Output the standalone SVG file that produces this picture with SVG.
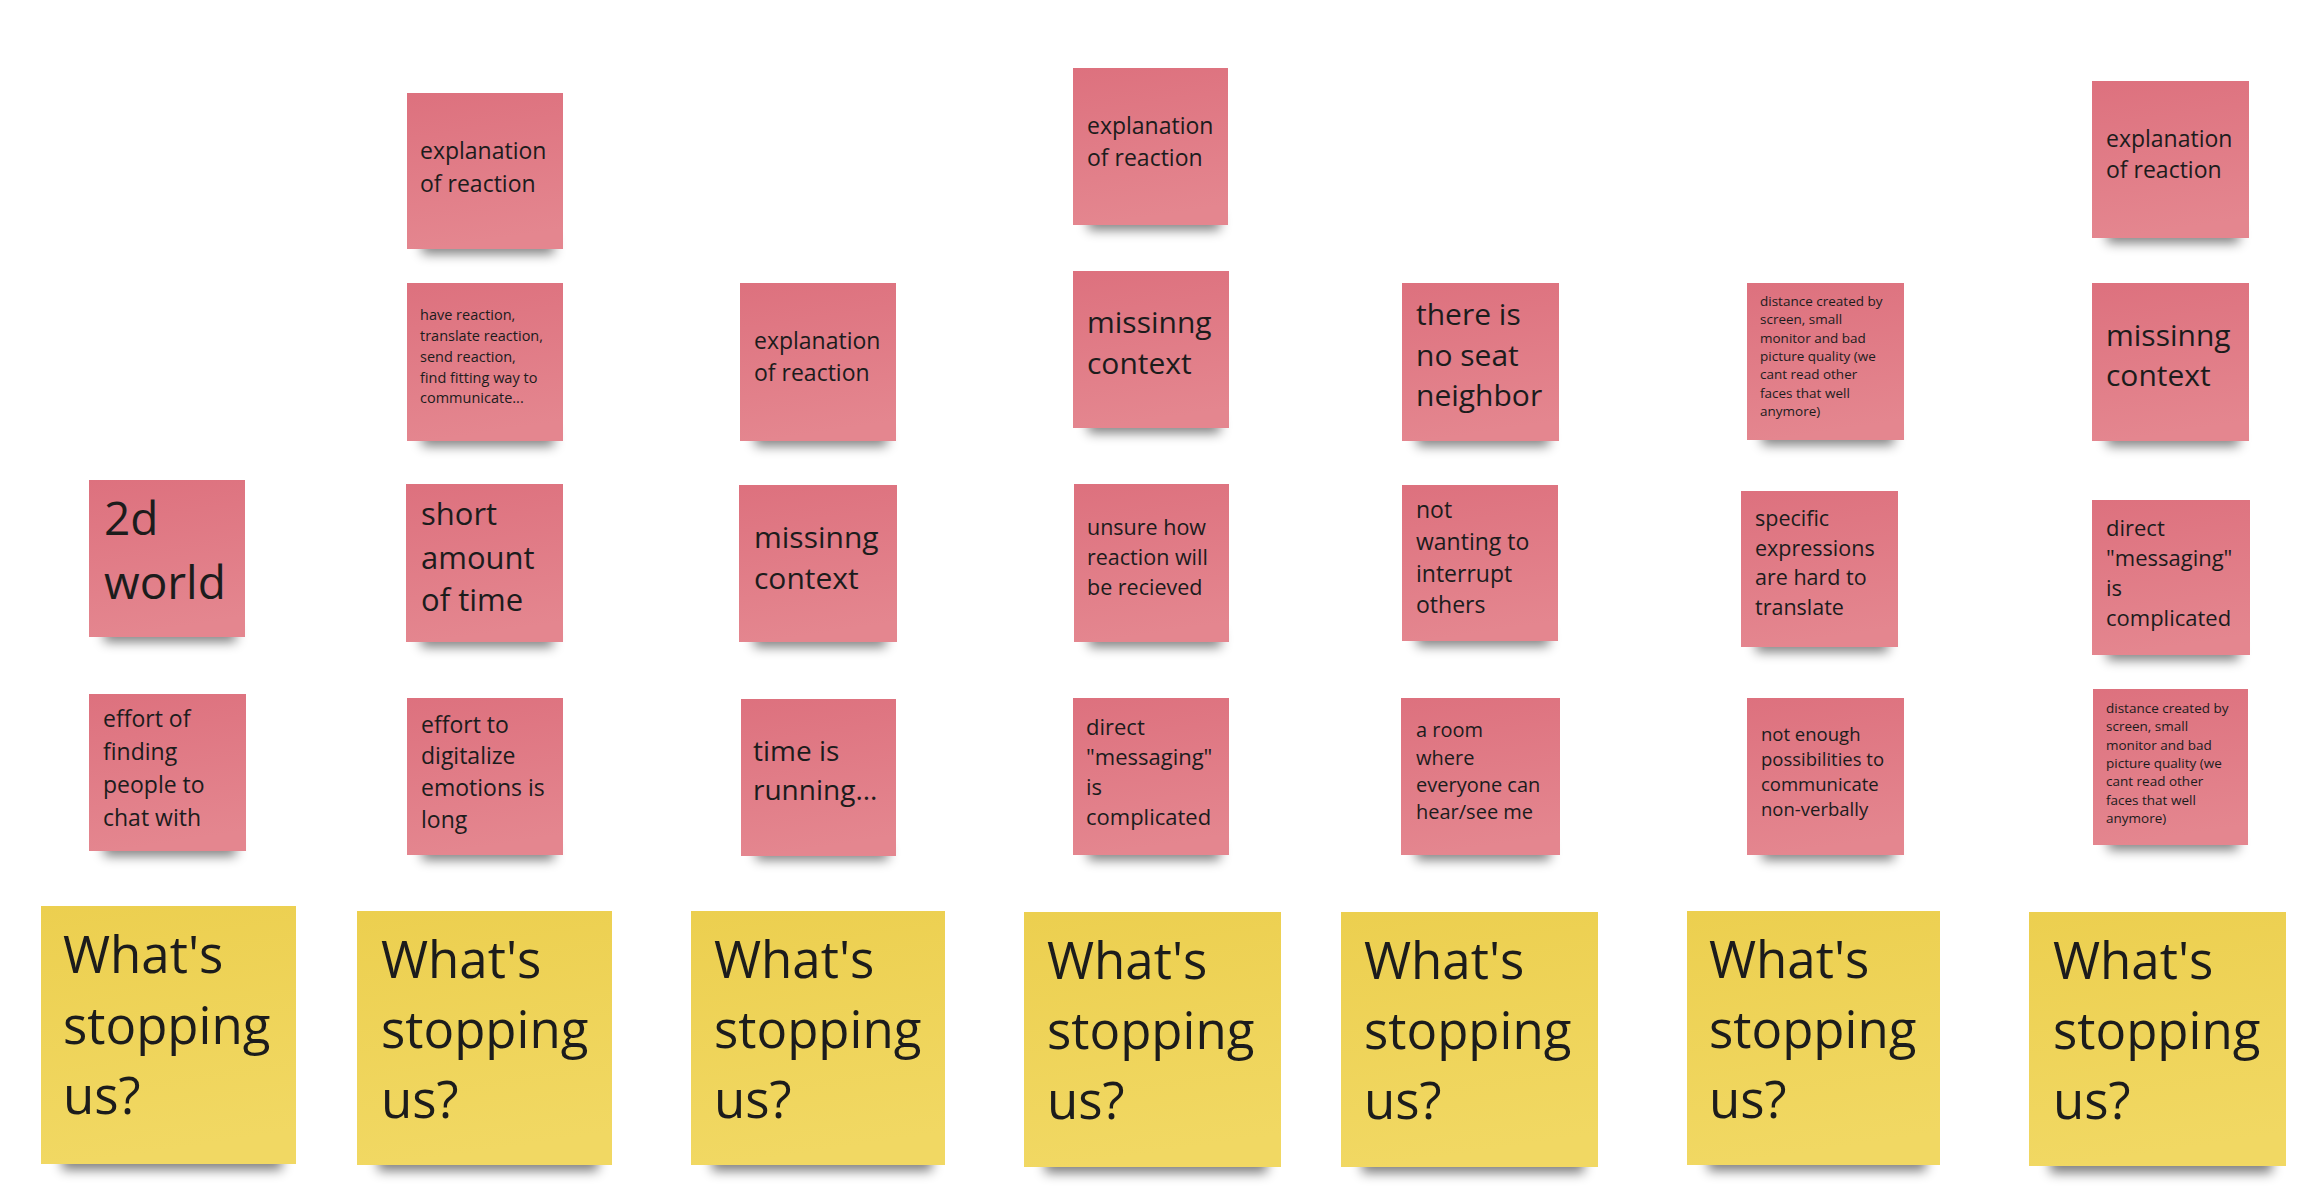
<svg xmlns="http://www.w3.org/2000/svg" width="2324" height="1190" viewBox="0 0 2324 1190">
<defs>
<linearGradient id="gp" x1="0" y1="0" x2="0.15" y2="1">
<stop offset="0" stop-color="#dd717e"/>
<stop offset="1" stop-color="#e4868f"/>
</linearGradient>
<linearGradient id="gy" x1="0" y1="0" x2="0.15" y2="1">
<stop offset="0" stop-color="#eccf4f"/>
<stop offset="1" stop-color="#f1d863"/>
</linearGradient>
<filter id="blur" x="-20%" y="-80%" width="140%" height="260%">
<feGaussianBlur stdDeviation="6"/>
</filter>
<style>
.p{fill:url(#gp)}
.y{fill:url(#gy)}
.sh{fill:#000;opacity:0.5;filter:url(#blur);transform:translateY(4px)}
text{font-family:"Open Sans","Noto Sans",sans-serif;fill:#1c1c1c}
.q{font-size:51px}
</style>
</defs>
<rect width="2324" height="1190" fill="#ffffff"/>

<!-- Column 1 -->
<g id="n1a"><rect class="sh" x="104" y="622" width="132" height="16"/><rect class="p" x="89" y="480" width="156" height="157"/>
<text style="font-size:46px"><tspan x="104" y="535">2d</tspan><tspan x="104" y="599">world</tspan></text></g>
<g id="n1b"><rect class="sh" x="104" y="836" width="132" height="16"/><rect class="p" x="89" y="694" width="157" height="157"/>
<text style="font-size:23px"><tspan x="103" y="727">effort of</tspan><tspan x="103" y="760">finding</tspan><tspan x="103" y="793">people to</tspan><tspan x="103" y="826">chat with</tspan></text></g>
<g id="y1"><rect class="sh" x="62" y="1146" width="220" height="20"/><rect class="y" x="41" y="906" width="255" height="258"/>
<text class="q"><tspan x="63" y="973">What's</tspan><tspan x="63" y="1044">stopping</tspan><tspan x="63" y="1114">us?</tspan></text></g>

<!-- Column 2 -->
<g id="n2a"><rect class="sh" x="422" y="234" width="132" height="16"/><rect class="p" x="407" y="93" width="156" height="156"/>
<text style="font-size:23px"><tspan x="420" y="159">explanation</tspan><tspan x="420" y="192">of reaction</tspan></text></g>
<g id="n2b"><rect class="sh" x="422" y="426" width="132" height="16"/><rect class="p" x="407" y="283" width="156" height="158"/>
<text style="font-size:14.5px"><tspan x="420" y="320">have reaction,</tspan><tspan x="420" y="341">translate reaction,</tspan><tspan x="420" y="362">send reaction,</tspan><tspan x="420" y="383">find fitting way to</tspan><tspan x="420" y="403">communicate...</tspan></text></g>
<g id="n2c"><rect class="sh" x="421" y="627" width="132" height="16"/><rect class="p" x="406" y="484" width="157" height="158"/>
<text style="font-size:31px"><tspan x="421" y="525">short</tspan><tspan x="421" y="569">amount</tspan><tspan x="421" y="611">of time</tspan></text></g>
<g id="n2d"><rect class="sh" x="422" y="840" width="132" height="16"/><rect class="p" x="407" y="698" width="156" height="157"/>
<text style="font-size:23px"><tspan x="421" y="733">effort to</tspan><tspan x="421" y="764">digitalize</tspan><tspan x="421" y="796">emotions is</tspan><tspan x="421" y="828">long</tspan></text></g>
<g id="y2"><rect class="sh" x="378" y="1147" width="220" height="20"/><rect class="y" x="357" y="911" width="255" height="254"/>
<text class="q"><tspan x="381" y="978">What's</tspan><tspan x="381" y="1048">stopping</tspan><tspan x="381" y="1118">us?</tspan></text></g>

<!-- Column 3 -->
<g id="n3a"><rect class="sh" x="755" y="426" width="132" height="16"/><rect class="p" x="740" y="283" width="156" height="158"/>
<text style="font-size:23px"><tspan x="754" y="349">explanation</tspan><tspan x="754" y="381">of reaction</tspan></text></g>
<g id="n3b"><rect class="sh" x="754" y="627" width="132" height="16"/><rect class="p" x="739" y="485" width="158" height="157"/>
<text style="font-size:30px"><tspan x="754" y="548">missinng</tspan><tspan x="754" y="589">context</tspan></text></g>
<g id="n3c"><rect class="sh" x="756" y="840" width="132" height="16"/><rect class="p" x="741" y="699" width="155" height="157"/>
<text style="font-size:28px"><tspan x="753" y="761">time is</tspan><tspan x="753" y="800">running...</tspan></text></g>
<g id="y3"><rect class="sh" x="712" y="1147" width="220" height="20"/><rect class="y" x="691" y="911" width="254" height="254"/>
<text class="q"><tspan x="714" y="978">What's</tspan><tspan x="714" y="1048">stopping</tspan><tspan x="714" y="1118">us?</tspan></text></g>

<!-- Column 4 -->
<g id="n4a"><rect class="sh" x="1088" y="210" width="132" height="16"/><rect class="p" x="1073" y="68" width="155" height="157"/>
<text style="font-size:23px"><tspan x="1087" y="134">explanation</tspan><tspan x="1087" y="166">of reaction</tspan></text></g>
<g id="n4b"><rect class="sh" x="1088" y="413" width="132" height="16"/><rect class="p" x="1073" y="271" width="156" height="157"/>
<text style="font-size:30px"><tspan x="1087" y="333">missinng</tspan><tspan x="1087" y="374">context</tspan></text></g>
<g id="n4c"><rect class="sh" x="1089" y="627" width="132" height="16"/><rect class="p" x="1074" y="484" width="155" height="158"/>
<text style="font-size:21.5px"><tspan x="1087" y="535">unsure how</tspan><tspan x="1087" y="565">reaction will</tspan><tspan x="1087" y="595">be recieved</tspan></text></g>
<g id="n4d"><rect class="sh" x="1088" y="840" width="132" height="16"/><rect class="p" x="1073" y="698" width="156" height="157"/>
<text style="font-size:22px"><tspan x="1086" y="735">direct</tspan><tspan x="1086" y="765">"messaging"</tspan><tspan x="1086" y="795">is</tspan><tspan x="1086" y="825">complicated</tspan></text></g>
<g id="y4"><rect class="sh" x="1045" y="1149" width="222" height="20"/><rect class="y" x="1024" y="912" width="257" height="255"/>
<text class="q"><tspan x="1047" y="979">What's</tspan><tspan x="1047" y="1049">stopping</tspan><tspan x="1047" y="1119">us?</tspan></text></g>

<!-- Column 5 -->
<g id="n5a"><rect class="sh" x="1417" y="426" width="132" height="16"/><rect class="p" x="1402" y="283" width="157" height="158"/>
<text style="font-size:30px"><tspan x="1416" y="325">there is</tspan><tspan x="1416" y="366">no seat</tspan><tspan x="1416" y="406">neighbor</tspan></text></g>
<g id="n5b"><rect class="sh" x="1417" y="626" width="132" height="16"/><rect class="p" x="1402" y="485" width="156" height="156"/>
<text style="font-size:23px"><tspan x="1416" y="518">not</tspan><tspan x="1416" y="550">wanting to</tspan><tspan x="1416" y="582">interrupt</tspan><tspan x="1416" y="613">others</tspan></text></g>
<g id="n5c"><rect class="sh" x="1416" y="840" width="134" height="16"/><rect class="p" x="1401" y="698" width="159" height="157"/>
<text style="font-size:20px"><tspan x="1416" y="737">a room</tspan><tspan x="1416" y="765">where</tspan><tspan x="1416" y="792">everyone can</tspan><tspan x="1416" y="819">hear/see me</tspan></text></g>
<g id="y5"><rect class="sh" x="1362" y="1149" width="222" height="20"/><rect class="y" x="1341" y="912" width="257" height="255"/>
<text class="q"><tspan x="1364" y="979">What's</tspan><tspan x="1364" y="1049">stopping</tspan><tspan x="1364" y="1119">us?</tspan></text></g>

<!-- Column 6 -->
<g id="n6a"><rect class="sh" x="1762" y="425" width="132" height="16"/><rect class="p" x="1747" y="283" width="157" height="157"/>
<text style="font-size:13.5px"><tspan x="1760" y="306">distance created by</tspan><tspan x="1760" y="324">screen, small</tspan><tspan x="1760" y="343">monitor and bad</tspan><tspan x="1760" y="361">picture quality (we</tspan><tspan x="1760" y="379">cant read other</tspan><tspan x="1760" y="398">faces that well</tspan><tspan x="1760" y="416">anymore)</tspan></text></g>
<g id="n6b"><rect class="sh" x="1756" y="632" width="132" height="16"/><rect class="p" x="1741" y="491" width="157" height="156"/>
<text style="font-size:21.5px"><tspan x="1755" y="526">specific</tspan><tspan x="1755" y="556">expressions</tspan><tspan x="1755" y="585">are hard to</tspan><tspan x="1755" y="615">translate</tspan></text></g>
<g id="n6c"><rect class="sh" x="1762" y="840" width="132" height="16"/><rect class="p" x="1747" y="698" width="157" height="157"/>
<text style="font-size:18.5px"><tspan x="1761" y="741">not enough</tspan><tspan x="1761" y="766">possibilities to</tspan><tspan x="1761" y="791">communicate</tspan><tspan x="1761" y="816">non-verbally</tspan></text></g>
<g id="y6"><rect class="sh" x="1708" y="1147" width="218" height="20"/><rect class="y" x="1687" y="911" width="253" height="254"/>
<text class="q"><tspan x="1709" y="978">What's</tspan><tspan x="1709" y="1048">stopping</tspan><tspan x="1709" y="1118">us?</tspan></text></g>

<!-- Column 7 -->
<g id="n7a"><rect class="sh" x="2107" y="223" width="132" height="16"/><rect class="p" x="2092" y="81" width="157" height="157"/>
<text style="font-size:23px"><tspan x="2106" y="147">explanation</tspan><tspan x="2106" y="178">of reaction</tspan></text></g>
<g id="n7b"><rect class="sh" x="2107" y="426" width="132" height="16"/><rect class="p" x="2092" y="283" width="157" height="158"/>
<text style="font-size:30px"><tspan x="2106" y="346">missinng</tspan><tspan x="2106" y="386">context</tspan></text></g>
<g id="n7c"><rect class="sh" x="2107" y="640" width="132" height="16"/><rect class="p" x="2092" y="500" width="158" height="155"/>
<text style="font-size:22px"><tspan x="2106" y="536">direct</tspan><tspan x="2106" y="566">"messaging"</tspan><tspan x="2106" y="596">is</tspan><tspan x="2106" y="626">complicated</tspan></text></g>
<g id="n7d"><rect class="sh" x="2108" y="830" width="130" height="16"/><rect class="p" x="2093" y="689" width="155" height="156"/>
<text style="font-size:13.5px"><tspan x="2106" y="713">distance created by</tspan><tspan x="2106" y="731">screen, small</tspan><tspan x="2106" y="750">monitor and bad</tspan><tspan x="2106" y="768">picture quality (we</tspan><tspan x="2106" y="786">cant read other</tspan><tspan x="2106" y="805">faces that well</tspan><tspan x="2106" y="823">anymore)</tspan></text></g>
<g id="y7"><rect class="sh" x="2050" y="1149" width="222" height="20"/><rect class="y" x="2029" y="912" width="257" height="254"/>
<text class="q"><tspan x="2053" y="979">What's</tspan><tspan x="2053" y="1049">stopping</tspan><tspan x="2053" y="1119">us?</tspan></text></g>

<g id="connectors"></g>
</svg>
